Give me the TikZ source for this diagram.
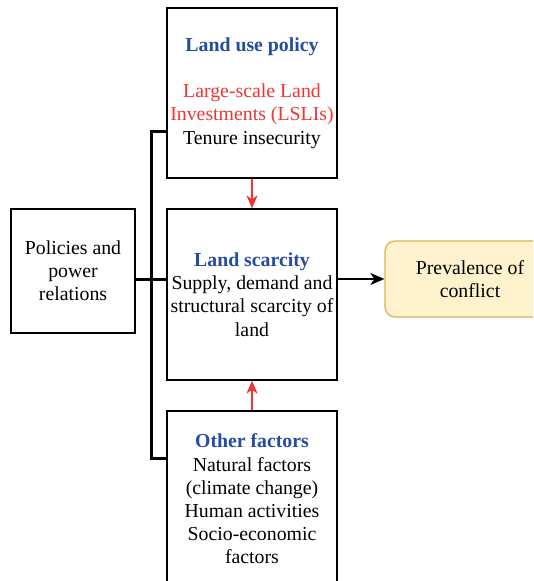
\documentclass[tikz,border=0pt]{standalone}
\usepackage{fontspec}
\setmainfont{Liberation Serif}
\newfontfamily\diagfont{Liberation Serif}
\usetikzlibrary{arrows.meta,calc}
\definecolor{titleblue}{RGB}{38,76,160}
\definecolor{accentred}{RGB}{240,52,52}
\definecolor{notefill}{RGB}{255,242,204}
\definecolor{notedraw}{RGB}{214,182,86}
\tikzset{
  x=1pt, y=1pt,
  box/.style={draw=black, line width=1.3pt, inner sep=0pt, align=center,
    font=\diagfont\fontsize{19.8}{23.2}\selectfont},
  outcome/.style={box, draw=notedraw, fill=notefill, rounded corners=10pt},
  bus/.style={line width=3pt, line join=miter},
  link/.style={line width=1.3pt, -{Stealth[length=14pt,width=12pt,inset=4pt]}},
  redlink/.style={line width=1.3pt, draw=accentred, color=accentred,
    -{Stealth[length=13pt,width=11pt,inset=4pt]}}
}
\begin{document}
\begin{tikzpicture}
\useasboundingbox (0,0) rectangle (533,-581);
\begin{scope}
\clip (0,0) rectangle (533,-581);
% main boxes
\node[box, minimum width=170, minimum height=170] (policy) at (252,-93)
  {{\bfseries\color{titleblue}Land use policy}\\[23pt]
   {\color{accentred}Large-scale Land}\\
   {\color{accentred}Investments (LSLIs)}\\
   Tenure insecurity};
\node[box, minimum width=124, minimum height=124] (power) at (73,-271)
  {Policies and\\power\\relations};
\node[box, minimum width=170, minimum height=171] (scarcity) at (252,-294.5)
  {{\bfseries\color{titleblue}Land scarcity}\\
   Supply, demand and\\
   structural scarcity of\\
   land};
\node[box, minimum width=170, minimum height=176] (other) at (252,-499)
  {{\bfseries\color{titleblue}Other factors}\\
   Natural factors\\
   (climate change)\\
   Human activities\\
   Socio-economic\\
   factors};
\node[outcome, minimum width=170, minimum height=76] (conflict) at (470,-279)
  {Prevalence of\\conflict};
% bracket joining the drivers
\coordinate (bustop) at (151,-131);
\coordinate (busbot) at (151,-458);
\coordinate (busmid) at (151,-279);
\draw[bus] (policy.west |- bustop) -- (bustop) -- (busbot) -- (other.west |- busbot);
\draw[bus] (power.east |- busmid) -- (scarcity.west |- busmid);
% arrows
\draw[link] (scarcity.east |- conflict.west) -- (conflict.west);
\draw[redlink] (policy.south) -- (scarcity.north);
\draw[redlink] (other.north) -- (scarcity.south);
\end{scope}
\end{tikzpicture}
\end{document}
